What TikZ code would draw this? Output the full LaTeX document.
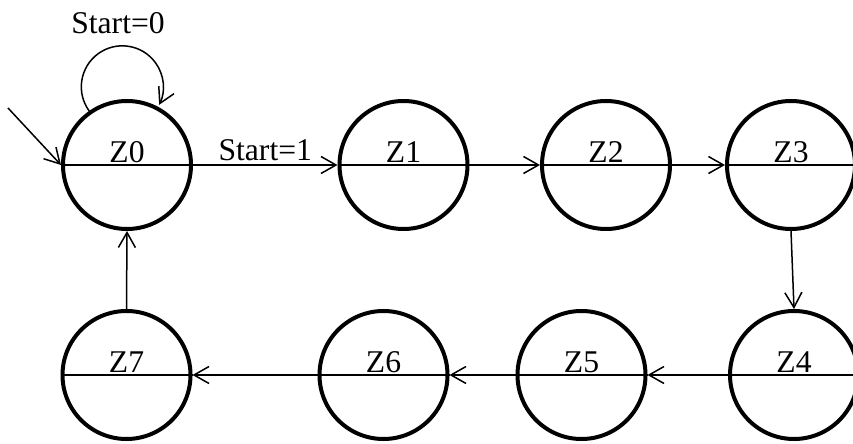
\documentclass[tikz,border=0pt]{standalone}
\usepackage{fontspec}
\setmainfont{Liberation Serif}
\usetikzlibrary{arrows.meta}
\usetikzlibrary{positioning}

\tikzset{
  zstate/.style={circle,draw,line width=0.08cm,minimum size=2.56cm,inner sep=0pt,
    text height=12pt,text depth=15pt},
  flow/.style={line width=0.03cm,-{Straight Barb[length=0.3cm,width=0.34cm]}}
}

\begin{document}
\begin{tikzpicture}[font=\fontsize{18}{22}\selectfont]
        \useasboundingbox (0,0) rectangle (17.06,8.86);

        % upper row
        \node[zstate] (z0) at (2.54,5.56) {Z0};
        \node[zstate] (z1) at (8.07,5.56) {Z1};
        \node[zstate] (z2) at (12.12,5.56) {Z2};
        \node[zstate] (z3) at (15.82,5.56) {Z3};
        % lower row
        \node[zstate] (z4) at (15.88,1.36) {Z4};
        \node[zstate] (z5) at (11.63,1.36) {Z5};
        \node[zstate] (z6) at (7.67,1.36) {Z6};
        \node[zstate] (z7) at (2.53,1.36) {Z7};

        \foreach \i in {0,...,7}
            \draw[line width=0.03cm] (z\i.west)--(z\i.east);

        \coordinate (in) at (0.16,6.70);
        \draw[flow] (in)--(z0.west);

        \draw[flow] (z0.125) arc[start angle=216,end angle=-26,radius=0.82];
        \node (s0) at (2.36,8.40) {Start=0};

        \draw[flow] (z0.east)--node[above,inner sep=2pt] (s1) {Start=1} (z1.west);
        \draw[flow] (z1.east)--(z2.west);
        \draw[flow] (z2.east)--(z3.west);
        \draw[flow] (z3.south)--(z4.north);
        \draw[flow] (z4.west)--(z5.east);
        \draw[flow] (z5.west)--(z6.east);
        \draw[flow] (z6.west)--(z7.east);
        \draw[flow] (z7.north)--(z0.south);
\end{tikzpicture}
\end{document}
